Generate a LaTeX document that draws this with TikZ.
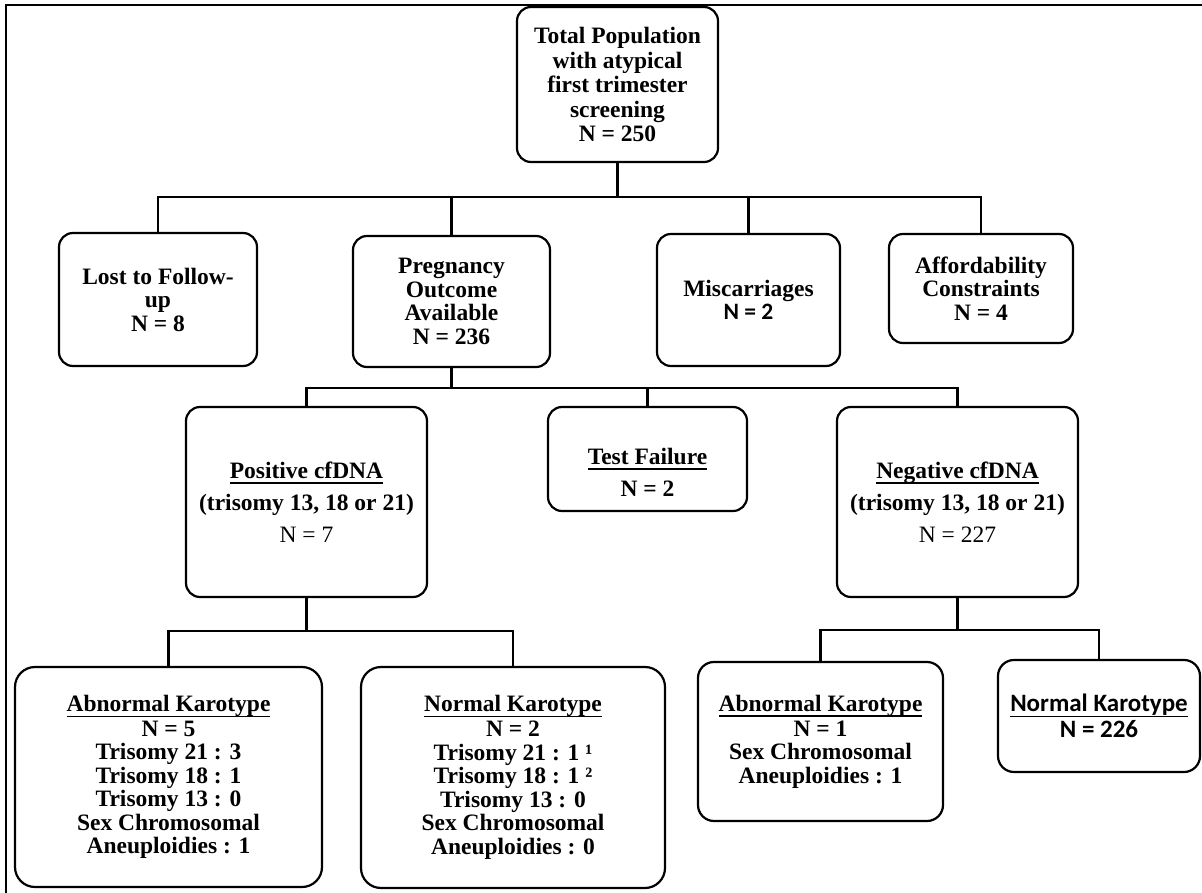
\documentclass[tikz,border=0pt]{standalone}
\usepackage{fontspec}
\setmainfont{Liberation Serif}
\newfontfamily\calibri{Carlito}
\usetikzlibrary{positioning}

% underline drawn just below the descenders
\newcommand\undl[1]{\setbox0\hbox{#1}\rlap{\rule[-5.4pt]{\wd0}{1.2pt}}\box0}

\begin{document}
\begin{tikzpicture}[x=1pt, y=-1pt,
	box/.style={draw, rounded corners=14pt, line width=2.2pt, align=center, inner sep=0pt,
		font=\fontsize{23.5}{23.5}\selectfont\bfseries},
	link/.style={line width=2.2pt}]

	\useasboundingbox (0,0) rectangle (1202,893);
	\draw[line width=1.8pt] (6,893) -- (6,5) -- (1202,5);

	% first row
	\node[box, minimum width=201pt, minimum height=155pt,
		font=\fontsize{23.5}{24.5}\selectfont\bfseries] (total) at (617.5,84.5)
		{Total Population\\with atypical\\first trimester\\screening\\N = 250};

	\node[box, minimum width=198pt, minimum height=133pt] (lost) at (158,299.5)
		{Lost to Follow-\\up\\N = 8};
	\node[box, minimum width=197pt, minimum height=131pt] (preg) at (451.5,301.5)
		{Pregnancy\\Outcome\\Available\\N = 236};
	\node[box, minimum width=183pt, minimum height=132pt] (misc) at (748.5,300)
		{Miscarriages\\{\calibri N = 2}};
	\node[box, minimum width=184pt, minimum height=109pt] (afford) at (981,288.5)
		{Affordability\\Constraints\\N = 4};

	% cfDNA results
	\node[box, minimum width=241pt, minimum height=190pt] (pos) at (306.5,502)
		{\undl{Positive cfDNA}\\[8.5pt](trisomy 13, 18 or 21)\\[8.5pt]{\mdseries N = 7}};
	\node[box, minimum width=199pt, minimum height=104pt] (fail) at (647.5,459)
		{\rule{0pt}{43pt}\undl{Test Failure}\\[9pt]N = 2};
	\node[box, minimum width=241pt, minimum height=190pt] (neg) at (957.5,502)
		{\undl{Negative cfDNA}\\[8.5pt](trisomy 13, 18 or 21)\\[8.5pt]{\mdseries N = 227}};

	% karyotypes
	\node[box, rounded corners=20pt, minimum width=307pt, minimum height=220pt] (posab) at (168.5,777)
		{\undl{Abnormal Karotype}\\[1.5pt]N = 5\\Trisomy 21 : 3\\Trisomy 18 : 1\\Trisomy 13 : 0\\Sex Chromosomal\\Aneuploidies : 1};
	\node[box, rounded corners=20pt, minimum width=304pt, minimum height=221pt] (posnorm) at (513,777.5)
		{\undl{Normal Karotype}\\[1.5pt]N = 2\\Trisomy 21 : 1 ¹\\Trisomy 18 : 1 ²\\Trisomy 13 : 0\\Sex Chromosomal\\Aneuploidies : 0};
	\node[box, rounded corners=16pt, minimum width=245pt, minimum height=159pt] (negab) at (820.5,741.5)
		{\undl{Abnormal Karotype}\\[1.5pt]N = 1\\Sex Chromosomal\\Aneuploidies : 1};
	\node[box, rounded corners=16pt, minimum width=202pt, minimum height=112pt,
		font=\fontsize{25}{24}\selectfont\bfseries\calibri] (negnorm) at (1099,716)
		{\undl{Normal Karotype}\\[1.5pt]N = 226};

	% connectors
	\coordinate (bus1) at (617.5,197);
	\coordinate (bus2) at (451.5,388);
	\coordinate (bus3) at (306.5,631);
	\coordinate (bus4) at (957.5,630);

	\draw[link] (total) -- (bus1);
	\draw[link] (bus1) -| (lost.north);
	\draw[link] (bus1) -| (preg.north);
	\draw[link] (bus1) -| (misc.north);
	\draw[link] (bus1) -| (afford.north);

	\draw[link] (preg) -- (bus2);
	\draw[link] (bus2) -| (pos.north);
	\draw[link] (bus2) -| (fail.north);
	\draw[link] (bus2) -| (neg.north);

	\draw[link] (pos) -- (bus3);
	\draw[link] (bus3) -| (posab.north);
	\draw[link] (bus3) -| (posnorm.north);

	\draw[link] (neg) -- (bus4);
	\draw[link] (bus4) -| (negab.north);
	\draw[link] (bus4) -| (negnorm.north);
\end{tikzpicture}
\end{document}
